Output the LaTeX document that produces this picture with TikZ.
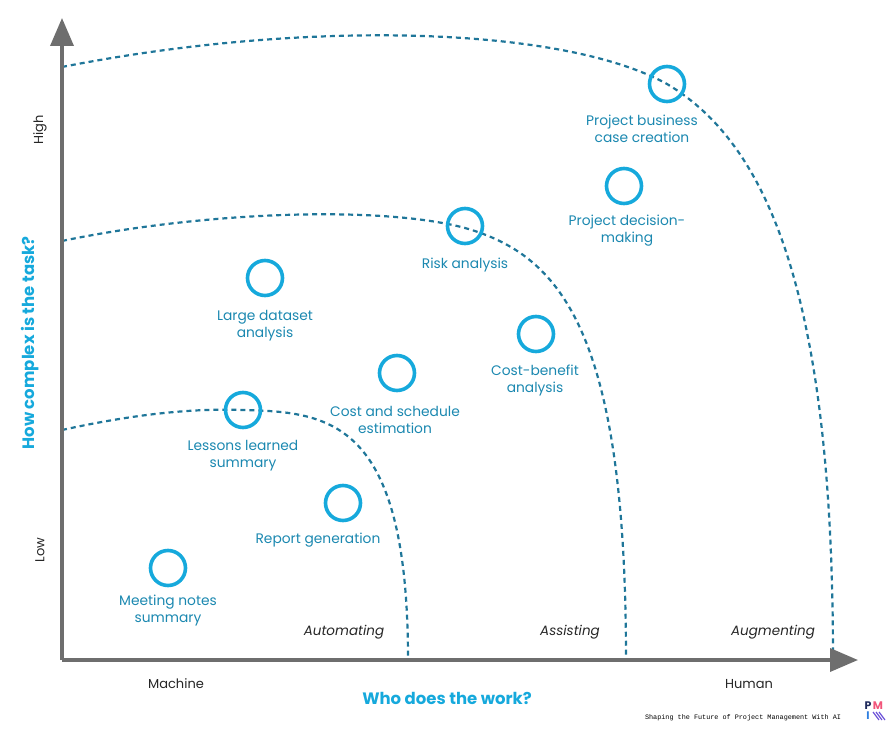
\documentclass[tikz,border=0pt]{standalone}
\usepackage{fontspec}
\setmainfont{Poppins}
\newfontfamily\footfont{Liberation Mono}
\usetikzlibrary{arrows.meta}
\definecolor{ringblue}{HTML}{16A9DC}
\definecolor{textblue}{HTML}{1B88B0}
\definecolor{dashblue}{HTML}{1F7699}
\definecolor{axisgray}{HTML}{6E6E6E}
\definecolor{logonavy}{HTML}{1F2A5C}
\definecolor{logocoral}{HTML}{F2557A}
\definecolor{logoblue}{HTML}{2F7FE0}
\definecolor{logopurple}{HTML}{6A4FD8}
\tikzset{
    task/.style={circle, draw=ringblue, line width=3.6pt, minimum size=35pt, inner sep=0pt},
    tasklabel/.style={text=textblue, align=center, font=\fontsize{13.8}{17}\selectfont},
    zone/.style={font=\fontsize{13.5}{15}\selectfont\itshape, text=black!85},
    axislabel/.style={font=\fontsize{13}{15}\selectfont, text=black!85},
    axistitle/.style={font=\fontsize{16.5}{18}\selectfont\bfseries, text=ringblue},
    boundary/.style={draw=dashblue, line width=2.2pt, dash pattern=on 5pt off 4pt},
    axis/.style={draw=axisgray, line width=3.6pt, -{Triangle[length=28pt,width=23pt]}},
    logoletter/.style={font=\fontsize{11}{11}\selectfont\bfseries, inner sep=0pt}
}
\begin{document}
\begin{tikzpicture}[x=1pt, y=-1pt]
    \useasboundingbox (0, 0) rectangle (891, 730);
    % zone boundaries
    \draw[boundary] (62, 67) .. controls (300, 20) and (560, 25) .. (667, 84)
        .. controls (770, 145) and (833, 300) .. (833, 660);
    \draw[boundary] (62, 241) .. controls (200, 212) and (380, 205) .. (465, 228)
        .. controls (560, 255) and (626, 330) .. (626, 660);
    \draw[boundary] (62, 430) .. controls (130, 415) and (190, 408) .. (243, 410)
        .. controls (330, 412) and (408, 420) .. (408, 660);
    % axes
    \coordinate (origin) at (62, 660);
    \coordinate (ytip) at (62, 18);
    \coordinate (xtip) at (858, 660);
    \draw[axis] (origin) -- (ytip);
    \draw[axis] (origin) -- (xtip);
    % tasks
    \node[task] (bizcase) at (667, 84) {};
    \node[tasklabel] (bizcase-l) at (642, 129) {Project business\\case creation};
    \node[task] (decision) at (624, 186) {};
    \node[tasklabel] (decision-l) at (627, 231) {Project decision-\\making};
    \node[task] (risk) at (465, 226) {};
    \node[tasklabel] (risk-l) at (465, 265) {Risk analysis};
    \node[task] (dataset) at (265, 278) {};
    \node[tasklabel] (dataset-l) at (265, 326) {Large dataset\\analysis};
    \node[task] (costben) at (536, 334) {};
    \node[tasklabel] (costben-l) at (535, 381) {Cost-benefit\\analysis};
    \node[task] (schedule) at (397, 373) {};
    \node[tasklabel] (schedule-l) at (395, 420) {Cost and schedule\\estimation};
    \node[task] (lessons) at (243, 410) {};
    \node[tasklabel] (lessons-l) at (243, 456) {Lessons learned\\summary};
    \node[task] (report) at (343, 503) {};
    \node[tasklabel] (report-l) at (318, 540) {Report generation};
    \node[task] (meeting) at (168, 568) {};
    \node[tasklabel] (meeting-l) at (168, 611) {Meeting notes\\summary};
    % zones
    \node[zone] (automating) at (344, 632) {Automating};
    \node[zone] (assisting) at (570, 632) {Assisting};
    \node[zone] (augmenting) at (773, 632) {Augmenting};
    % axis labels
    \node[axislabel] (machine) at (176, 684) {Machine};
    \node[axislabel] (human) at (749, 684) {Human};
    \node[axistitle] (who) at (447, 698) {Who does the work?};
    \node[axislabel, rotate=90] (high) at (40, 130) {High};
    \node[axislabel, rotate=90] (low) at (40, 550) {Low};
    \node[axistitle, rotate=90] (how) at (30, 343) {How complex is the task?};
    % footer
    \node[font=\footfont\fontsize{6.8}{8}\selectfont] (footer) at (743, 718)
        {Shaping the Future of Project Management With AI};
    \node[logoletter, text=logonavy] (logo-p) at (868, 706) {P};
    \node[logoletter, text=logocoral] (logo-m) at (878, 706) {M};
    \node[logoletter, text=logoblue] (logo-i) at (868, 716) {I};
    \foreach \k in {0, 3, 6} {
        \draw[logopurple, line width=1.2pt] (873+\k, 712) -- (879+\k, 720);
    }
\end{tikzpicture}
\end{document}
